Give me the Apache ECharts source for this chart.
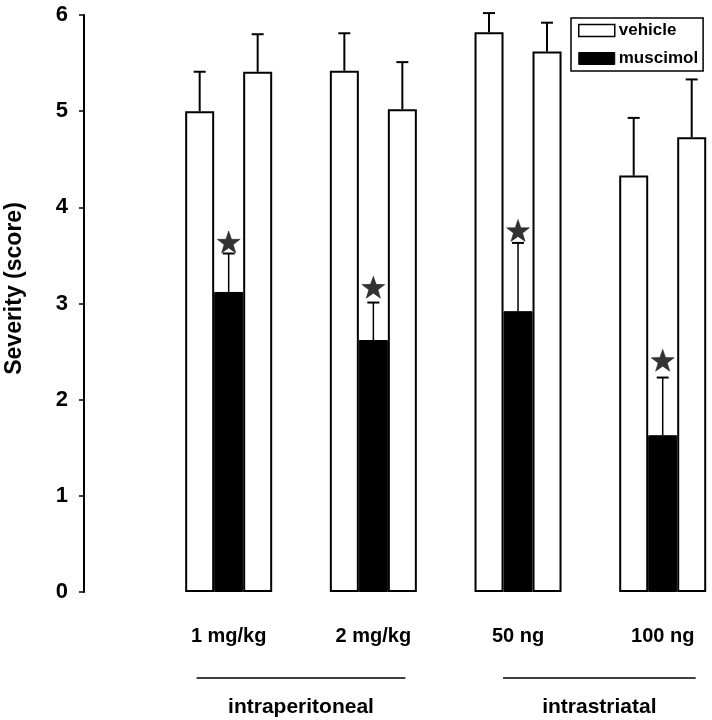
<!DOCTYPE html>
<html>
<head>
<meta charset="utf-8">
<script src="https://cdn.jsdelivr.net/npm/echarts@6/dist/echarts.min.js"></script>
<style>
html,body{margin:0;padding:0;background:#fff;}
#c{width:712px;height:720px;}
</style>
</head>
<body>
<div id="c"></div>
<script>
// ---- data ----
var categories = ['1 mg/kg', '2 mg/kg', '50 ng', '100 ng'];
var yTicks = [0, 1, 2, 3, 4, 5, 6];
var vehicleLeft = [5.0, 5.42, 5.82, 4.33];
var vehicleLeftErr = [5.41, 5.81, 6.02, 4.93];
var muscimol = [3.12, 2.62, 2.92, 1.63];
var muscimolErr = [3.52, 3.01, 3.63, 2.23];
var vehicleRight = [5.41, 5.02, 5.62, 4.73];
var vehicleRightErr = [5.80, 5.51, 5.92, 5.33];
var stars = [3.64, 3.17, 3.76, 2.41];
var routeGroups = [
  {label: 'intraperitoneal', from: 0, to: 1},
  {label: 'intrastriatal', from: 2, to: 3}
];

var FONT = "'Liberation Sans', Arial, Helvetica, sans-serif";
var BW = 29;

// category axis with a leading blank slot so groups sit on the ticks
var xCats = [''].concat(categories);
function pad(arr) { return ['-'].concat(arr); }

function errData(means, ups) {
  return means.map(function (m, i) { return [i + 1, m, ups[i]]; });
}

function errSeries(name, means, ups, offset, lw) {
  return {
    type: 'custom',
    name: name + '_err',
    clip: false,
    z: 5,
    silent: true,
    data: errData(means, ups),
    encode: {x: 0, y: [1, 2]},
    renderItem: function (params, api) {
      var p0 = api.coord([api.value(0), api.value(1)]);
      var p1 = api.coord([api.value(0), api.value(2)]);
      var x = p0[0] + offset;
      var cap = 6;
      return {
        type: 'group',
        children: [
          {type: 'line', shape: {x1: x, y1: p0[1], x2: x, y2: p1[1]},
           style: {stroke: '#000', lineWidth: lw}},
          {type: 'line', shape: {x1: x - cap, y1: p1[1], x2: x + cap, y2: p1[1]},
           style: {stroke: '#000', lineWidth: 2}}
        ]
      };
    }
  };
}

var starPath = 'path://M0,-10 L2.35,-3.24 L9.51,-3.09 L3.8,1.24 L5.88,8.09 L0,4 L-5.88,8.09 L-3.8,1.24 L-9.51,-3.09 L-2.35,-3.24 Z';

var chart = echarts.init(document.getElementById('c'), null, {renderer: 'canvas'});

var option = {
  backgroundColor: '#fff',
  animation: false,
  textStyle: {fontFamily: FONT},
  grid: {left: 84, top: 15, bottom: 128, right: 49.3, containLabel: false, outerBoundsMode: 'none'},
  legend: {
    orient: 'vertical',
    left: 571, top: 18,
    padding: [4, 5, 4, 7],
    itemGap: 11,
    itemWidth: 36, itemHeight: 12,
    borderColor: '#000', borderWidth: 1.5, borderRadius: 0,
    textStyle: {fontFamily: FONT, fontWeight: 'bold', fontSize: 17, color: '#000', padding: [0, 0, 0, -1]},
    data: [
      {name: 'vehicle', icon: 'rect', itemStyle: {color: '#fff', borderColor: '#000', borderWidth: 1.5}},
      {name: 'muscimol', icon: 'rect', itemStyle: {color: '#000', borderColor: '#000', borderWidth: 1}}
    ]
  },
  xAxis: {
    type: 'category',
    data: xCats,
    boundaryGap: false,
    axisLine: {show: false},
    axisTick: {show: false},
    splitLine: {show: false},
    axisLabel: {
      margin: 34,
      interval: 0,
      fontFamily: FONT, fontWeight: 'bold', fontSize: 20, color: '#000'
    }
  },
  yAxis: {
    type: 'value',
    min: yTicks[0], max: yTicks[yTicks.length - 1], interval: 1,
    name: 'Severity (score)',
    nameLocation: 'middle',
    nameRotate: 90,
    nameGap: 58,
    nameTextStyle: {fontFamily: FONT, fontWeight: 'bold', fontSize: 23, color: '#000', padding: [0, 0, 0, 30]},
    axisLine: {show: true, lineStyle: {color: '#000', width: 2}},
    axisTick: {show: true, length: 5, lineStyle: {color: '#000', width: 1.5}},
    splitLine: {show: false},
    axisLabel: {margin: 16, fontFamily: FONT, fontWeight: 'bold', fontSize: 22, color: '#000'}
  },
  series: [
    {
      name: 'vehicle', type: 'bar', data: pad(vehicleLeft), barWidth: BW, barGap: '0%', clip: false, z: 2,
      itemStyle: {color: '#fff', borderColor: '#000', borderWidth: 2}
    },
    {
      name: 'muscimol', type: 'bar', data: pad(muscimol), barWidth: BW, barGap: '0%', clip: false, z: 2,
      itemStyle: {color: '#000', borderColor: '#000', borderWidth: 1}
    },
    {
      name: 'vehicle', type: 'bar', data: pad(vehicleRight), barWidth: BW, barGap: '0%', clip: false, z: 2,
      itemStyle: {color: '#fff', borderColor: '#000', borderWidth: 2}
    },
    errSeries('vehicleL', vehicleLeft, vehicleLeftErr, -BW, 2),
    errSeries('muscimol', muscimol, muscimolErr, 0, 1.5),
    errSeries('vehicleR', vehicleRight, vehicleRightErr, BW, 2),
    {
      name: 'star', type: 'scatter', symbol: starPath, symbolSize: [23, 22],
      data: stars.map(function (v, i) { return [i + 1, v]; }),
      itemStyle: {color: '#000', borderColor: '#000', borderWidth: 0.5}, z: 6, clip: false, silent: true
    }
  ]
};

chart.setOption(option);

// group brackets under the axis, placed from the axis scale
var g = [];
routeGroups.forEach(function (grp, k) {
  var xa = chart.convertToPixel({xAxisIndex: 0}, grp.from + 1);
  var xb = chart.convertToPixel({xAxisIndex: 0}, grp.to + 1);
  var x1 = xa - (k === 0 ? 32 : 15);
  var x2 = xb + (k === 0 ? 32 : 33);
  g.push({type: 'line', shape: {x1: x1, y1: 678, x2: x2, y2: 678}, style: {stroke: '#000', lineWidth: 1.5}, silent: true});
  g.push({type: 'text', x: (x1 + x2) / 2, y: 707, style: {text: grp.label, fill: '#000', font: 'bold 21px ' + FONT, align: 'center', verticalAlign: 'middle'}, silent: true});
});
chart.setOption({graphic: g});
</script>
</body>
</html>
